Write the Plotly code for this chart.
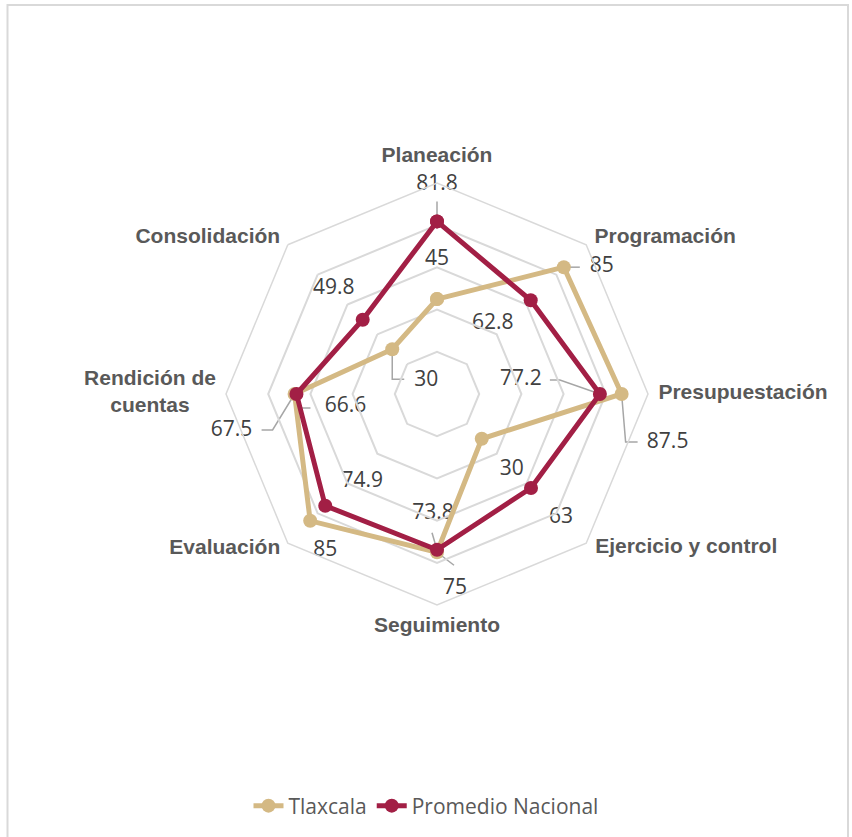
import math
import plotly.graph_objects as go

# ---------------- data ----------------
categories = ["Planeación", "Programación", "Presupuestación", "Ejercicio y control",
              "Seguimiento", "Evaluación", "Rendición de cuentas", "Consolidación"]
category_labels = ["Planeación", "Programación", "Presupuestación", "Ejercicio y control",
                   "Seguimiento", "Evaluación", "Rendición de<br>cuentas", "Consolidación"]
tlaxcala = [45, 85, 87.5, 30, 75, 85, 67.5, 30]
nacional = [81.8, 62.8, 77.2, 63, 73.8, 74.9, 66.6, 49.8]
series_names = ["Tlaxcala", "Promedio Nacional"]
radial_ticks = [20, 40, 60, 80]

# ---------------- style ----------------
W, H = 852, 837
CX, CY, RPX = 437, 394, 211          # polar centre (px) and radius for r=100
SCALE = RPX / 100.0
TAN = "#D4B984"
RED = "#A21F45"
GRID = "#D9D9D9"
LEADER = "#A6A6A6"
VAL_FONT = dict(family="Open Sans, Noto Sans, sans-serif", size=21, color="#404040")
CAT_FONT = dict(family="Liberation Sans, Arial, sans-serif", size=21, color="#595959")

# label offsets (px, screen coords) from the data point, and leader polylines
tl_off = [(0, -39), (38, 0), (46, 49), (30, 31), (18, 36), (15, 30), (-63, 37), (34, 32)]
tl_lead = [None, [(0, 0), (16, 0)], [(0, 0), (4, 48), (16, 48)], None,
           [(0, 0), (17, 13)], None, [(0, 0), (-22, 36), (-33, 36)],
           [(0, 0), (0, 30), (12, 30)]]
na_off = [(0, -37), (-38, 23), (-79, -14), (30, 30), (-4, -36), (37, -24), (49, 13), (-29, -31)]
na_lead = [[(0, 0), (0, -20)], None, [(0, 0), (-40, -14), (-50, -14)], None,
           [(0, 0), (-5, -17)], None, [(0, 0), (3, 14), (14, 14)], None]
cat_off = [(0, -26), (79, -7), (95, 0), (100, 5), (0, 22), (-63, 6), (-76, -1), (-80, -7)]

n = len(categories)
angles = [i * 360.0 / n for i in range(n)]


def to_xy(v, ang):
    a = math.radians(ang)
    return v * math.sin(a), v * math.cos(a)


def shift(x, y, off):
    return x + off[0] / SCALE, y - off[1] / SCALE


fig = go.Figure()

# leader lines + value labels (cartesian overlay with same scale as polar)
for vals, offs, leads in [(tlaxcala, tl_off, tl_lead), (nacional, na_off, na_lead)]:
    lx, ly, txt = [], [], []
    for i, v in enumerate(vals):
        px, py = to_xy(v, angles[i])
        if leads[i]:
            pts = [shift(px, py, o) for o in leads[i]]
            fig.add_trace(go.Scatter(x=[p[0] for p in pts], y=[p[1] for p in pts],
                                     mode="lines", line=dict(color=LEADER, width=1.5),
                                     showlegend=False, hoverinfo="skip", cliponaxis=False))
        tx, ty = shift(px, py, offs[i])
        lx.append(tx)
        ly.append(ty)
        txt.append(f"{v:g}")
    fig.add_trace(go.Scatter(x=lx, y=ly, text=txt, mode="text", textfont=VAL_FONT,
                             textposition="middle center", showlegend=False,
                             hoverinfo="skip", cliponaxis=False))

# category labels
cx_, cy_ = [], []
for i in range(n):
    vx, vy = to_xy(100, angles[i])
    tx, ty = shift(vx, vy, cat_off[i])
    cx_.append(tx)
    cy_.append(ty)
fig.add_trace(go.Scatter(x=cx_, y=cy_, text=[f"<b>{c}</b>" for c in category_labels],
                         mode="text", textfont=CAT_FONT, textposition="middle center",
                         showlegend=False, hoverinfo="skip", cliponaxis=False))

# data series
for name, vals, col in [(series_names[0], tlaxcala, TAN), (series_names[1], nacional, RED)]:
    fig.add_trace(go.Scatterpolar(r=vals + vals[:1], theta=categories + categories[:1],
                                  name=name, mode="lines+markers",
                                  line=dict(color=col, width=5),
                                  marker=dict(color=col, size=14),
                                  hoverinfo="skip"))

dx0, dx1 = (CX - RPX) / W, (CX + RPX) / W
dy0, dy1 = (H - CY - RPX) / H, (H - CY + RPX) / H

fig.update_layout(
    width=W, height=H,
    margin=dict(l=0, r=0, t=0, b=0),
    paper_bgcolor="white", plot_bgcolor="rgba(0,0,0,0)",
    polar=dict(
        domain=dict(x=[dx0, dx1], y=[dy0, dy1]),
        bgcolor="rgba(0,0,0,0)",
        gridshape="linear",
        radialaxis=dict(range=[0, 100], tickvals=radial_ticks, showticklabels=False,
                        showline=False, ticks="", gridcolor=GRID, gridwidth=1.5),
        angularaxis=dict(direction="clockwise", rotation=90, showgrid=False,
                         showticklabels=False, ticks="", showline=True,
                         linecolor=GRID, linewidth=1.5),
    ),
    xaxis=dict(domain=[0, 1], range=[-CX / SCALE, (W - CX) / SCALE],
               visible=False, fixedrange=True),
    yaxis=dict(domain=[0, 1], range=[-(H - CY) / SCALE, CY / SCALE],
               visible=False, fixedrange=True),
    showlegend=True,
    legend=dict(orientation="h", x=0.5, xanchor="center", y=31 / H, yanchor="middle",
                font=dict(family="Open Sans, Noto Sans, sans-serif", size=21, color="#595959"),
                bgcolor="rgba(0,0,0,0)"),
    shapes=[dict(type="rect", xref="paper", yref="paper",
                 x0=7.5 / W, x1=848 / W, y0=-0.02, y1=(H - 5) / H,
                 line=dict(color=GRID, width=2), layer="below")],
)

fig.write_html("out.html", config={"displayModeBar": False},
               post_script="document.body.style.margin='0';document.body.style.overflow='hidden';")
